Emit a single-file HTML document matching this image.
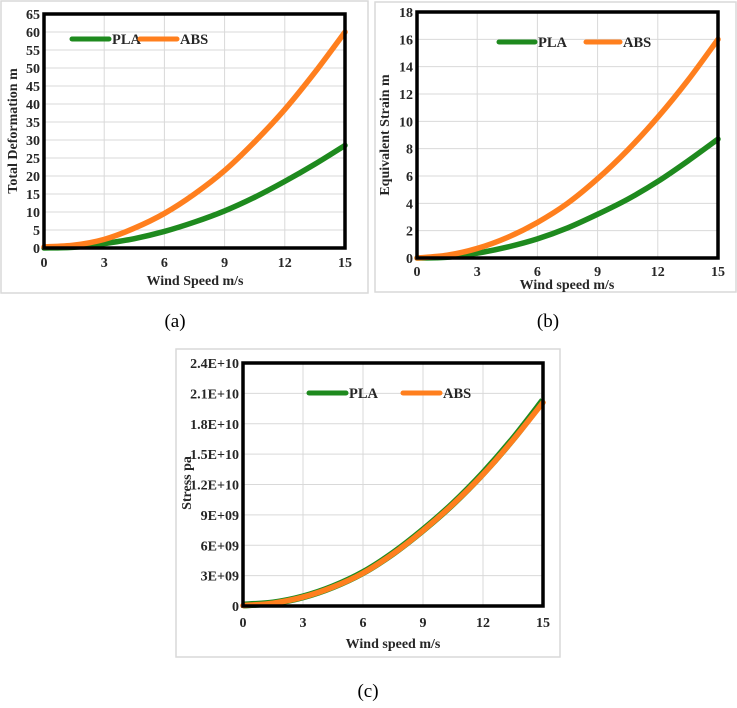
<!DOCTYPE html>
<html><head><meta charset="utf-8"><style>
body{margin:0;background:#fff;width:737px;height:703px;overflow:hidden;font-family:"Liberation Serif",serif}
svg text{font-family:"Liberation Serif",serif;font-weight:bold;fill:#262626}
</style></head><body>
<svg id="s" width="737" height="703">
<text x="175" y="327" font-size="19" style="font-weight:normal;fill:#000" text-anchor="middle">(a)</text>
<text x="548" y="327" font-size="19" style="font-weight:normal;fill:#000" text-anchor="middle">(b)</text>
<text x="368" y="697" font-size="19" style="font-weight:normal;fill:#000" text-anchor="middle">(c)</text>
</svg>
<script>
const speeds=[0,1.5,3,4.5,6,7.5,9,10.5,12,13.5,15];
const xTicks=[0,3,6,9,12,15];
const aPLA=[0,0.2,1.2,2.6,4.6,7.2,10.3,14.1,18.5,23.3,28.5];
const aABS=[0.3,0.8,2.4,5.5,9.6,15.0,21.5,29.5,38.5,48.8,60];
const aTicks=[0,5,10,15,20,25,30,35,40,45,50,55,60,65];
const bPLA=[0,0.05,0.35,0.8,1.4,2.2,3.2,4.3,5.6,7.1,8.7];
const bABS=[0,0.2,0.7,1.5,2.6,4.0,5.8,7.9,10.3,13.0,16.0];
const bTicks=[0,2,4,6,8,10,12,14,16,18];
const cPLA=[0.1e9,0.3e9,0.9e9,1.9e9,3.3e9,5.2e9,7.5e9,10.1e9,13.1e9,16.5e9,20.3e9];
const cABS=[0.05e9,0.28e9,0.88e9,1.87e9,3.25e9,5.15e9,7.45e9,10.05e9,13.0e9,16.4e9,20.1e9];
const cTicks=[0,3e9,6e9,9e9,1.2e10,1.5e10,1.8e10,2.1e10,2.4e10];
const cLabels=["0","3E+09","6E+09","9E+09","1.2E+10","1.5E+10","1.8E+10","2.1E+10","2.4E+10"];
const NS="http://www.w3.org/2000/svg",S=document.getElementById('s');
function el(t,a,p){const e=document.createElementNS(NS,t);for(const k in a)e.setAttribute(k,a[k]);(p||S).appendChild(e);return e;}
function path(xs,ys,X,Y){const P=xs.map((x,i)=>[X(x),Y(ys[i])]);let d="M"+P[0];for(let i=0;i<P.length-1;i++){const p0=P[i-1]||P[i],p1=P[i],p2=P[i+1],p3=P[i+2]||p2;
d+=` C${p1[0]+(p2[0]-p0[0])/6},${p1[1]+(p2[1]-p0[1])/6} ${p2[0]-(p3[0]-p1[0])/6},${p2[1]-(p3[1]-p1[1])/6} ${p2[0]},${p2[1]}`;}return d;}
function chart(o){
 const g=el('g',{});
 const fr=el('rect',{x:o.f[0],y:o.f[1],width:o.f[2],height:o.f[3],fill:'#fff',stroke:'#d9d9d9','stroke-width':1.5},g);
 
 const [L,T,R,B]=o.p,ymax=o.ticks[o.ticks.length-1];
 const X=v=>L+(R-L)*v/15,Y=v=>B-(B-T)*v/ymax;
 xTicks.forEach(t=>{const l=el('line',{x1:X(t),x2:X(t),y1:T,y2:B,stroke:'#d9d9d9'},g);
  const tx=el('text',{x:X(t),y:o.xl,'font-size':14,'text-anchor':'middle'},g);tx.textContent=t;});
 o.ticks.forEach((t,i)=>{const l=el('line',{x1:L,x2:R,y1:Y(t),y2:Y(t),stroke:'#d9d9d9'},g);
  const tx=el('text',{x:L-4,y:Y(t)+5,'font-size':14,'text-anchor':'end'},g);tx.textContent=o.labels?o.labels[i]:t;});
 [[o.pla,'#1e8a1e','series-pla'],[o.abs,'#ff7f1e','series-abs']].forEach(([d,c,n],i)=>{
  if(o.c&&i==0){const e=el('path',{d:path(speeds,d,X,Y),fill:'none',stroke:'#1e8a1e','stroke-width':7},g);return;}
  const e=el('path',{d:path(speeds,d,X,Y),fill:'none',stroke:c,'stroke-width':5.5,'stroke-linecap':'round'},g);});
 const bx=el('rect',{x:L,y:T,width:R-L,height:B-T,fill:'none',stroke:'#000','stroke-width':3.5},g);
 const lg=o.lg;[[lg[1],lg[2],'#1e8a1e','PLA'],[lg[3],lg[4],'#ff7f1e','ABS']].forEach(([a,b,c,t])=>{
  const l=el('line',{x1:a,x2:b,y1:lg[0],y2:lg[0],stroke:c,'stroke-width':5,'stroke-linecap':'round'},g);
  const tx=el('text',{x:b+3,y:lg[0]+5,'font-size':14.5},g);tx.textContent=t;});
 const xt=el('text',{x:o.xt[0],y:o.xt[1],'font-size':14,'text-anchor':'middle'},g);xt.textContent=o.xtitle;
 const yt=el('text',{x:0,y:0,'font-size':14,'text-anchor':'middle',transform:`translate(${o.yt[0]},${o.yt[1]}) rotate(-90)`},g);yt.textContent=o.ytitle;
}
chart({name:'chart-a',f:[1,1,367,292],p:[44,14,345,248],ticks:aTicks,pla:aPLA,abs:aABS,xl:267,lg:[39,72,109,140,177],xt:[195,285],xtitle:'Wind Speed m/s',yt:[17,131],ytitle:'Total Deformation m'});
chart({name:'chart-b',f:[375,2,361,290],p:[417,12,718,258],ticks:bTicks,pla:bPLA,abs:bABS,xl:276,lg:[42,499,535,586,620],xt:[567,289],xtitle:'Wind speed m/s',yt:[389,135],ytitle:'Equivalent Strain m'});
chart({name:'chart-c',f:[176,349,384,308],p:[243,363,543,606],ticks:cTicks,labels:cLabels,pla:cPLA,abs:cABS,c:true,xl:627,lg:[393,309,346,403,440],xt:[393,648],xtitle:'Wind speed m/s',yt:[191,483],ytitle:'Stress pa'});
</script>
</body></html>
